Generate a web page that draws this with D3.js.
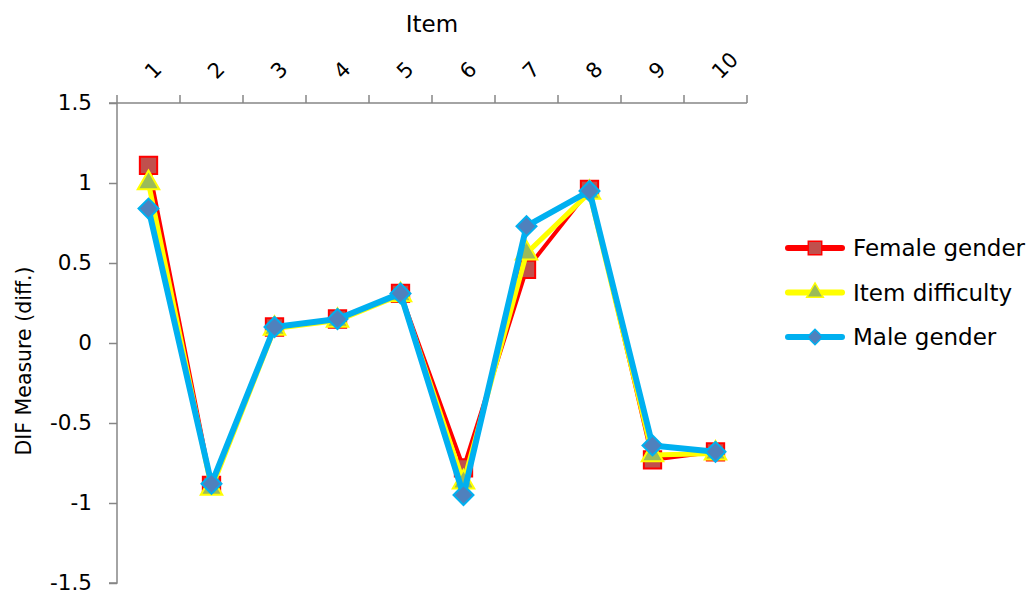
<!DOCTYPE html>
<html>
<head>
<meta charset="utf-8">
<script src="https://cdn.jsdelivr.net/npm/d3@7"></script>
<style>
  body { margin: 0; background: #fff; }
  text { font-family: "DejaVu Sans", Verdana, sans-serif; fill: #000; }
</style>
</head>
<body>
<svg id="chart" width="1036" height="597"></svg>
<script>
// Item labels along the top axis
const items = ["1", "2", "3", "4", "5", "6", "7", "8", "9", "10"];
// DIF measures per item
const femaleGender   = [1.11, -0.89, 0.10, 0.15, 0.31, -0.78, 0.46, 0.96, -0.73, -0.68];
const itemDifficulty = [1.00, -0.91, 0.09, 0.14, 0.30, -0.87, 0.56, 0.94, -0.70, -0.69];
const maleGender     = [0.84, -0.88, 0.10, 0.15, 0.31, -0.95, 0.73, 0.95, -0.64, -0.68];
const yTicks = [1.5, 1, 0.5, 0, -0.5, -1, -1.5];

const series = [
  { name: "Female gender",   values: femaleGender,   line: "#ff0000", fill: "#c0504d", stroke: "#ff0000", width: 4, symbol: d3.symbolSquare,   size: 300, rot: 0 },
  { name: "Item difficulty", values: itemDifficulty, line: "#ffff00", fill: "#9bbb59", stroke: "#ffff00", width: 5, symbol: d3.symbolTriangle, size: 200, rot: 0 },
  { name: "Male gender",     values: maleGender,     line: "#00b0f0", fill: "#4f81bd", stroke: "#00b0f0", width: 6, symbol: d3.symbolSquare,   size: 200, rot: 45 }
];

const svg = d3.select("#chart");
const plotLeft = 117, plotRight = 747, plotTop = 103, plotBottom = 583;

const x = d3.scaleBand().domain(items).range([plotLeft, plotRight]);
const y = d3.scaleLinear().domain([-1.5, 1.5]).range([plotBottom, plotTop]);
const axisColor = "#868686";

// Y axis
const yAxis = svg.append("g").attr("transform", `translate(${plotLeft},0)`)
  .call(d3.axisLeft(y).tickValues(yTicks).tickSize(8).tickPadding(17)
    .tickFormat(d => String(d)));
yAxis.select(".domain").attr("stroke", axisColor).attr("stroke-width", 1.5)
  .attr("d", `M0,${plotTop}V${plotBottom}H-8`);
yAxis.selectAll(".tick line").attr("stroke", axisColor).attr("stroke-width", 1.5);
yAxis.selectAll(".tick text").style("font-size", "21.5px").attr("fill", "#000");

// X axis along the top, ticks at category boundaries
const xAxis = svg.append("g").attr("transform", `translate(0,${plotTop})`);
xAxis.append("line").attr("x1", plotLeft - 8).attr("x2", plotRight).attr("y1", 0).attr("y2", 0)
  .attr("stroke", axisColor).attr("stroke-width", 1.5);
const bounds = items.map(d => x(d)).concat([x(items[items.length - 1]) + x.bandwidth()]);
xAxis.selectAll("line.tk").data(bounds).join("line").attr("class", "tk")
  .attr("x1", d => d).attr("x2", d => d).attr("y1", -8).attr("y2", 0)
  .attr("stroke", axisColor).attr("stroke-width", 1.5);
xAxis.selectAll("text").data(items).join("text")
  .attr("transform", d => `translate(${x(d) + x.bandwidth() / 2 + 5},-23) rotate(-45)`)
  .attr("text-anchor", "start")
  .style("font-size", "21px")
  .text(d => d);

// Titles
svg.append("text").attr("x", 432).attr("y", 32).attr("text-anchor", "middle")
  .style("font-size", "23px").text("Item");
svg.append("text").attr("transform", "translate(31,361) rotate(-90)")
  .attr("text-anchor", "middle").style("font-size", "20.5px").text("DIF Measure (diff.)");

// Series lines and markers
const line = d3.line().x((d, i) => x(items[i]) + x.bandwidth() / 2).y(d => y(d));
series.forEach(s => {
  const g = svg.append("g");
  g.append("path").attr("d", line(s.values)).attr("fill", "none")
    .attr("stroke", s.line).attr("stroke-width", s.width).attr("stroke-linejoin", "round");
  g.selectAll("path.m").data(s.values).join("path").attr("class", "m")
    .attr("transform", (d, i) => `translate(${x(items[i]) + x.bandwidth() / 2},${y(d)}) rotate(${s.rot})`)
    .attr("d", d3.symbol().type(s.symbol).size(s.size))
    .attr("fill", s.fill).attr("stroke", s.stroke).attr("stroke-width", 2);
});

// Legend
const legend = svg.append("g");
series.forEach((s, i) => {
  const ly = 248 + i * 44.5;
  legend.append("line").attr("x1", 788).attr("x2", 842).attr("y1", ly).attr("y2", ly)
    .attr("stroke", s.line).attr("stroke-width", 6).attr("stroke-linecap", "round");
  legend.append("path").attr("transform", `translate(815,${ly}) rotate(${s.rot})`)
    .attr("d", d3.symbol().type(s.symbol).size(s.size * 0.6))
    .attr("fill", s.fill).attr("stroke", s.stroke).attr("stroke-width", 1.5);
  legend.append("text").attr("x", 853).attr("y", ly + 8).style("font-size", "23px").text(s.name);
});
</script>
</body>
</html>
